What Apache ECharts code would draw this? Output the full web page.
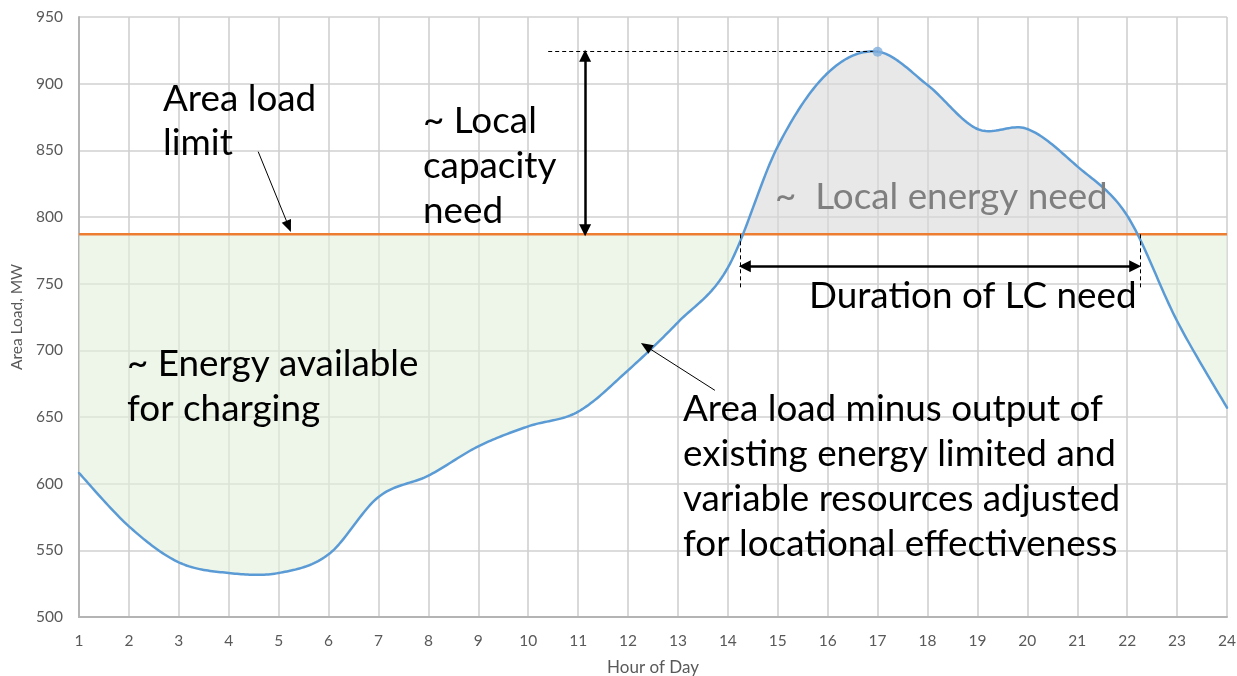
<!DOCTYPE html>
<html>
<head>
<meta charset="utf-8">
<script src="https://cdn.jsdelivr.net/npm/echarts@6/dist/echarts.min.js"></script>
<style>
html,body{margin:0;padding:0;background:#fff;}
#chart{width:1237px;height:676px;}
</style>
</head>
<body>
<div id="chart"></div>
<script>
// ---- data ----
const hours = [1,2,3,4,5,6,7,8,9,10,11,12,13,14,15,16,17,18,19,20,21,22,23,24];
const areaLoad = [608,568,541,533,533,547,590,606,628,643,654,685,721,762,853,908,924,899,866,866,838,801,722,657];
const areaLoadLimit = 787;
const yMin = 500, yMax = 950, yStep = 50;
const xMin = 1, xMax = 24, xStep = 1;
// annotation anchor values (hour, MW)
const capacityArrowHour = 11.14;
const dashStartHour = 10.4;
const needStartHour = 14.24;
const needEndHour = 22.26;
const durationArrowMW = 763;
const durationTickBottomMW = 747;
const limitPointer = [[4.59, 849], [5.2, 793]];
const curvePointer = [[13.74, 670], [12.36, 703]];

// ---- build ----
const curve = hours.map((h, i) => [h, areaLoad[i]]);
const limitLine = [[xMin, areaLoadLimit], [xMax, areaLoadLimit]];
let peakIdx = 0;
areaLoad.forEach((v, i) => { if (v > areaLoad[peakIdx]) peakIdx = i; });
const peakHour = hours[peakIdx], peakMW = areaLoad[peakIdx];

// spreadsheet-style smooth curve (Catmull-Rom Bezier) in pixel space
function smoothPixels(P, steps) {
  const out = [P[0]];
  const n = P.length;
  for (let i = 0; i < n - 1; i++) {
    const p0 = P[Math.max(i - 1, 0)], p1 = P[i], p2 = P[i + 1], p3 = P[Math.min(i + 2, n - 1)];
    const c1 = [p1[0] + (p2[0] - p0[0]) / 6, p1[1] + (p2[1] - p0[1]) / 6];
    const c2 = [p2[0] - (p3[0] - p1[0]) / 6, p2[1] - (p3[1] - p1[1]) / 6];
    for (let s = 1; s <= steps; s++) {
      const t = s / steps, u = 1 - t;
      const a = u * u * u, b = 3 * u * u * t, c = 3 * u * t * t, d = t * t * t;
      out.push([a * p1[0] + b * c1[0] + c * c2[0] + d * p2[0],
                a * p1[1] + b * c1[1] + c * c2[1] + d * p2[1]]);
    }
  }
  return out;
}
function curvePixels(api) {
  return smoothPixels(curve.map(p => api.coord(p)), 24);
}

const FONT = 'Lato';
function fitSize(str, w) {
  const c = document.createElement('canvas').getContext('2d');
  c.font = '100px ' + FONT;
  return 100 * w / c.measureText(str).width;
}
const S = fitSize('Area load minus output of', 420);

const texts = [
  ['Area load', 163, 110, '#000'],
  ['limit', 163, 154, '#000'],
  ['~ Local', 423, 132, '#000'],
  ['capacity', 423, 177, '#000'],
  ['need', 423, 222, '#000'],
  ['~  Local energy need', 775, 208, '#7F7F7F'],
  ['Duration of LC need', 809, 307, '#000'],
  ['~ Energy available', 127, 375, '#000'],
  ['for charging', 127, 420, '#000'],
  ['Area load minus output of', 683, 420, '#000'],
  ['existing energy limited and', 683, 465, '#000'],
  ['variable resources adjusted', 683, 510, '#000'],
  ['for locational effectiveness', 683, 555, '#000']
];

const chart = echarts.init(document.getElementById('chart'), null, {renderer: 'canvas'});
const option = {
  animation: false,
  backgroundColor: '#fff',
  grid: {left: 79, right: 10, top: 17, bottom: 59, containLabel: false, outerBoundsMode: 'none'},
  xAxis: {
    type: 'value', min: xMin, max: xMax, interval: xStep,
    name: 'Hour of Day', nameLocation: 'middle', nameGap: 42,
    nameTextStyle: {color: '#595959', fontSize: 17, fontFamily: FONT},
    axisLine: {show: true, lineStyle: {color: '#B4B4B4', width: 2}},
    axisTick: {show: false},
    axisLabel: {color: '#595959', fontSize: 15.5, fontFamily: FONT, margin: 16},
    splitLine: {show: true, lineStyle: {color: '#D0D0D0', width: 1.6}}
  },
  yAxis: {
    type: 'value', min: yMin, max: yMax, interval: yStep,
    name: 'Area Load, MW', nameLocation: 'middle', nameGap: 52, nameRotate: 90,
    nameTextStyle: {color: '#595959', fontSize: 15.5, fontFamily: FONT},
    axisLine: {show: true, lineStyle: {color: '#B4B4B4', width: 2}},
    axisTick: {show: false},
    axisLabel: {color: '#595959', fontSize: 15.5, fontFamily: FONT, margin: 16},
    splitLine: {show: true, lineStyle: {color: '#D0D0D0', width: 1.6}}
  },
  series: [
    { // fills between curve and limit
      type: 'custom', data: curve, silent: true, z: 1,
      renderItem: function (params, api) {
        if (params.dataIndex !== 0) return null;
        const pts = curvePixels(api);
        const yLim = api.coord([xMin, areaLoadLimit])[1];
        const x0 = pts[0][0], x1 = pts[pts.length - 1][0];
        const below = pts.map(p => [p[0], Math.max(p[1], yLim)]).concat([[x1, yLim], [x0, yLim]]);
        const above = pts.map(p => [p[0], Math.min(p[1], yLim)]).concat([[x1, yLim], [x0, yLim]]);
        return {
          type: 'group',
          children: [
            {type: 'polygon', shape: {points: below}, style: {fill: 'rgba(227,240,218,0.6)', stroke: null}},
            {type: 'polygon', shape: {points: above}, style: {fill: 'rgba(217,217,217,0.6)', stroke: null}}
          ]
        };
      }
    },
    { // area load limit
      type: 'line', data: limitLine, showSymbol: false, silent: true,
      lineStyle: {color: '#ED7D31', width: 2.5}, z: 3
    },
    { // load curve
      type: 'custom', data: curve, silent: true, z: 4,
      renderItem: function (params, api) {
        if (params.dataIndex !== 0) return null;
        return {
          type: 'polyline', shape: {points: curvePixels(api)},
          style: {fill: null, stroke: '#5B9BD5', lineWidth: 2.5, lineJoin: 'round', lineCap: 'round'}
        };
      }
    },
    { // peak point
      type: 'scatter', data: [[peakHour, peakMW]], symbolSize: 10, silent: true,
      itemStyle: {color: '#7FAEDD'}, z: 5
    },
    { // thick double arrows
      type: 'line', data: [], silent: true, z: 6,
      markLine: {
        silent: true, symbol: ['triangle', 'triangle'], symbolSize: [12, 12],
        label: {show: false},
        lineStyle: {color: '#000', width: 2.5, type: 'solid'},
        data: [
          [{coord: [capacityArrowHour, peakMW - 3]}, {coord: [capacityArrowHour, areaLoadLimit + 3]}],
          [{coord: [needStartHour + 0.1, durationArrowMW]}, {coord: [needEndHour - 0.1, durationArrowMW]}]
        ]
      }
    },
    { // dashed helper lines
      type: 'line', data: [], silent: true, z: 6,
      markLine: {
        silent: true, symbol: ['none', 'none'],
        label: {show: false},
        lineStyle: {color: '#000', width: 1, type: [4, 3]},
        data: [
          [{coord: [dashStartHour, peakMW]}, {coord: [peakHour, peakMW]}],
          [{coord: [needStartHour, areaLoadLimit]}, {coord: [needStartHour, durationTickBottomMW]}],
          [{coord: [needEndHour, areaLoadLimit]}, {coord: [needEndHour, durationTickBottomMW]}]
        ]
      }
    },
    { // thin pointer arrows
      type: 'line', data: [], silent: true, z: 6,
      markLine: {
        silent: true, symbol: ['none', 'triangle'], symbolSize: [10, 12],
        label: {show: false},
        lineStyle: {color: '#000', width: 1, type: 'solid'},
        data: [
          [{coord: limitPointer[0]}, {coord: limitPointer[1]}],
          [{coord: curvePointer[0]}, {coord: curvePointer[1]}]
        ]
      }
    }
  ],
  graphic: texts.map(t => ({
    type: 'text', left: t[1], top: t[2] - S * 0.95 + 6, silent: true, z: 100,
    style: {text: t[0], fill: t[3], font: S.toFixed(2) + 'px ' + FONT}
  }))
};
chart.setOption(option);
</script>
</body>
</html>
